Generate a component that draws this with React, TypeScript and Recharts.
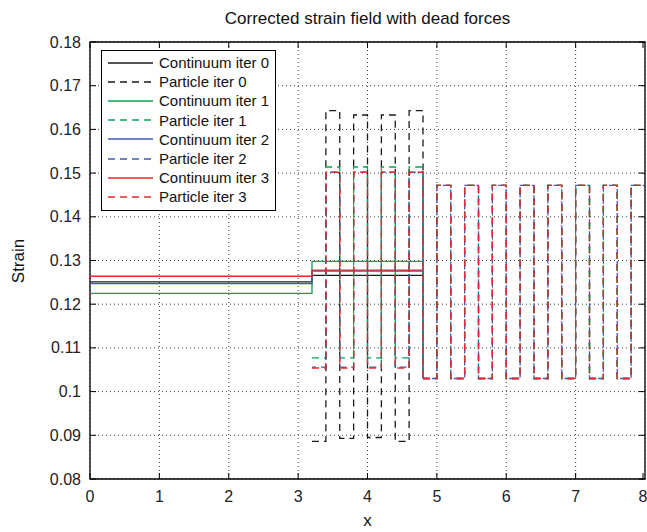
import React from "react";
import {
  LineChart,
  Line,
  XAxis,
  YAxis,
  CartesianGrid,
  ReferenceArea,
  Legend,
} from "recharts";

const FONT = '"Liberation Sans", Arial, Helvetica, sans-serif';

// layout of the plot box (page pixels)
const PLOT_LEFT = 90;
const PLOT_TOP = 42;
const PLOT_W = 555;
const PLOT_H = 437;

const xTicks = [0, 1, 2, 3, 4, 5, 6, 7, 8];
const yTicks = [0.08, 0.09, 0.1, 0.11, 0.12, 0.13, 0.14, 0.15, 0.16, 0.17, 0.18];

// continuum: piecewise constant on [0, 3.2] and [3.2, 4.8]
const contEdges = [0, 3.2, 4.8];
const cont0 = [0.1251, 0.1266];
const cont1 = [0.1225, 0.1298];
const cont2 = [0.1247, 0.1276];
const cont3 = [0.1264, 0.1278];

// particles: one strain value per cell, cells between these edges
const partEdges = [
  3.2, 3.4, 3.6, 3.8, 4.0, 4.2, 4.4, 4.6, 4.8, 5.0, 5.2, 5.4, 5.6, 5.8, 6.0,
  6.2, 6.4, 6.6, 6.8, 7.0, 7.2, 7.4, 7.6, 7.8, 8.0,
];
// cells in the coupling zone, 3.2 .. 4.8
const part0Head = [0.0886, 0.1643, 0.0893, 0.1633, 0.0895, 0.1633, 0.0886, 0.1643];
const part1Head = [0.1077, 0.1514, 0.1077, 0.1514, 0.1077, 0.1514, 0.1077, 0.1514];
const part2Head = [0.1056, 0.1502, 0.1056, 0.1502, 0.1056, 0.1502, 0.1056, 0.1502];
const part3Head = [0.1054, 0.1502, 0.1054, 0.1502, 0.1054, 0.1502, 0.1054, 0.1502];
// cells of the pure particle zone, 4.8 .. 8 (same for every iteration)
const partTail = [
  0.103, 0.1472, 0.103, 0.1472, 0.103, 0.1472, 0.103, 0.1472, 0.103, 0.1472,
  0.103, 0.1472, 0.103, 0.1472, 0.103, 0.1472,
];

const BLACK = "#1a1a1a";
const GREEN = "#00a651";
const BLUE = "#3f5bb0";
const RED = "#e8272c";
const DASH = "7 5";

// stairs: one point per edge, the last edge repeats the last value
const stairs = (edges: number[], vals: number[]) =>
  edges.map((x, i) => ({ x, y: vals[Math.min(i, vals.length - 1)] }));

const partHead = (head: number[]) =>
  stairs(partEdges, head.concat(partTail)).slice(0, 9);
const partRest = stairs(partEdges, part0Head.concat(partTail)).slice(8);

const series = [
  { name: "Continuum iter 0", color: BLACK, dash: undefined, cont: cont0 },
  { name: "Particle iter 0", color: BLACK, dash: DASH, head: part0Head, offset: 0 },
  { name: "Continuum iter 1", color: GREEN, dash: undefined, cont: cont1 },
  { name: "Particle iter 1", color: GREEN, dash: DASH, head: part1Head, offset: 0 },
  { name: "Continuum iter 2", color: BLUE, dash: undefined, cont: cont2 },
  { name: "Particle iter 2", color: BLUE, dash: DASH, head: part2Head, offset: 3 },
  { name: "Continuum iter 3", color: RED, dash: undefined, cont: cont3 },
  { name: "Particle iter 3", color: RED, dash: DASH, head: part3Head, offset: 0 },
];

const fmt = (v: number) => String(Number(v.toFixed(2)));

const YTick = (props: any) => {
  const { y, payload } = props;
  return (
    <g>
      <text
        x={PLOT_LEFT - 9}
        y={y}
        dy={5.5}
        textAnchor="end"
        fontSize={16}
        fontFamily={FONT}
        fill="#222"
      >
        {fmt(payload.value)}
      </text>
      <line x1={PLOT_LEFT} x2={PLOT_LEFT + 6} y1={y} y2={y} stroke="#000" />
      <line
        x1={PLOT_LEFT + PLOT_W - 6}
        x2={PLOT_LEFT + PLOT_W}
        y1={y}
        y2={y}
        stroke="#000"
      />
    </g>
  );
};

const XTick = (props: any) => {
  const { x, payload } = props;
  const bottom = PLOT_TOP + PLOT_H;
  return (
    <g>
      <text
        x={x}
        y={bottom + 23}
        textAnchor="middle"
        fontSize={16}
        fontFamily={FONT}
        fill="#222"
      >
        {payload.value}
      </text>
      <line x1={x} x2={x} y1={bottom} y2={bottom - 6} stroke="#000" />
      <line x1={x} x2={x} y1={PLOT_TOP} y2={PLOT_TOP + 6} stroke="#000" />
    </g>
  );
};

const LegendBox = () => (
  <div
    style={{
      border: "1px solid #000",
      background: "#fff",
      padding: "2px 6px 3px 6px",
      fontFamily: FONT,
      fontSize: 15,
      color: "#111",
    }}
  >
    {series.map((s) => (
      <div key={s.name} style={{ display: "flex", alignItems: "center", height: 19.2 }}>
        <svg width={45} height={8} style={{ display: "block" }}>
          <line
            x1={0}
            x2={45}
            y1={4}
            y2={4}
            stroke={s.color}
            strokeWidth={1.3}
            strokeDasharray={s.dash}
          />
        </svg>
        <span style={{ marginLeft: 6, whiteSpace: "nowrap" }}>{s.name}</span>
      </div>
    ))}
  </div>
);

export default function App() {
  return (
    <div style={{ position: "absolute", left: 0, top: 0, width: 647, height: 532, background: "#fff" }}>
      <div
        style={{
          position: "absolute",
          left: PLOT_LEFT,
          width: PLOT_W,
          top: 9,
          textAlign: "center",
          fontFamily: FONT,
          fontSize: 17,
          color: "#111",
        }}
      >
        Corrected strain field with dead forces
      </div>
      <div
        style={{
          position: "absolute",
          left: PLOT_LEFT,
          width: PLOT_W,
          top: 511,
          textAlign: "center",
          fontFamily: FONT,
          fontSize: 17,
          color: "#111",
        }}
      >
        x
      </div>
      <div
        style={{
          position: "absolute",
          left: 19,
          top: PLOT_TOP + PLOT_H / 2,
          transform: "translate(-50%, -50%) rotate(-90deg)",
          fontFamily: FONT,
          fontSize: 17,
          color: "#111",
        }}
      >
        Strain
      </div>
      <LineChart
        width={647}
        height={532}
        margin={{ top: PLOT_TOP, right: 647 - PLOT_LEFT - PLOT_W, bottom: 0, left: 0 }}
        style={{ position: "absolute", left: 0, top: 0 }}
      >
        <CartesianGrid stroke="#000" strokeOpacity={0.75} strokeDasharray="1 3" />
        <XAxis
          type="number"
          dataKey="x"
          domain={[0, 8]}
          ticks={xTicks}
          height={532 - PLOT_TOP - PLOT_H}
          axisLine={false}
          tickLine={false}
          tick={<XTick />}
          allowDataOverflow
        />
        <YAxis
          type="number"
          dataKey="y"
          domain={[0.08, 0.18]}
          ticks={yTicks}
          width={PLOT_LEFT}
          axisLine={false}
          tickLine={false}
          tick={<YTick />}
          allowDataOverflow
        />
        {series.map((s) =>
          s.cont ? (
            <Line
              key={s.name}
              data={stairs(contEdges, s.cont)}
              dataKey="y"
              type="stepAfter"
              stroke={s.color}
              strokeWidth={1.3}
              dot={false}
              activeDot={false}
              isAnimationActive={false}
            />
          ) : (
            <React.Fragment key={s.name}>
              <Line
                data={partHead(s.head!)}
                dataKey="y"
                type="stepAfter"
                stroke={s.color}
                strokeWidth={1.3}
                strokeDasharray={s.dash}
                strokeDashoffset={s.offset}
                dot={false}
                activeDot={false}
                isAnimationActive={false}
              />
              <Line
                data={partRest}
                dataKey="y"
                type="stepAfter"
                stroke={s.color}
                strokeWidth={1.3}
                strokeDasharray={s.dash}
                strokeDashoffset={s.offset}
                dot={false}
                activeDot={false}
                isAnimationActive={false}
              />
            </React.Fragment>
          )
        )}
        <ReferenceArea
          x1={0}
          x2={8}
          y1={0.08}
          y2={0.18}
          fill="none"
          stroke="#000"
          strokeWidth={1.3}
          fillOpacity={0}
        />
        <Legend
          layout="vertical"
          align="center"
          verticalAlign="middle"
          content={<LegendBox />}
          wrapperStyle={{ position: "absolute", left: 101, top: 50, width: "auto", height: "auto" }}
        />
      </LineChart>
    </div>
  );
}
